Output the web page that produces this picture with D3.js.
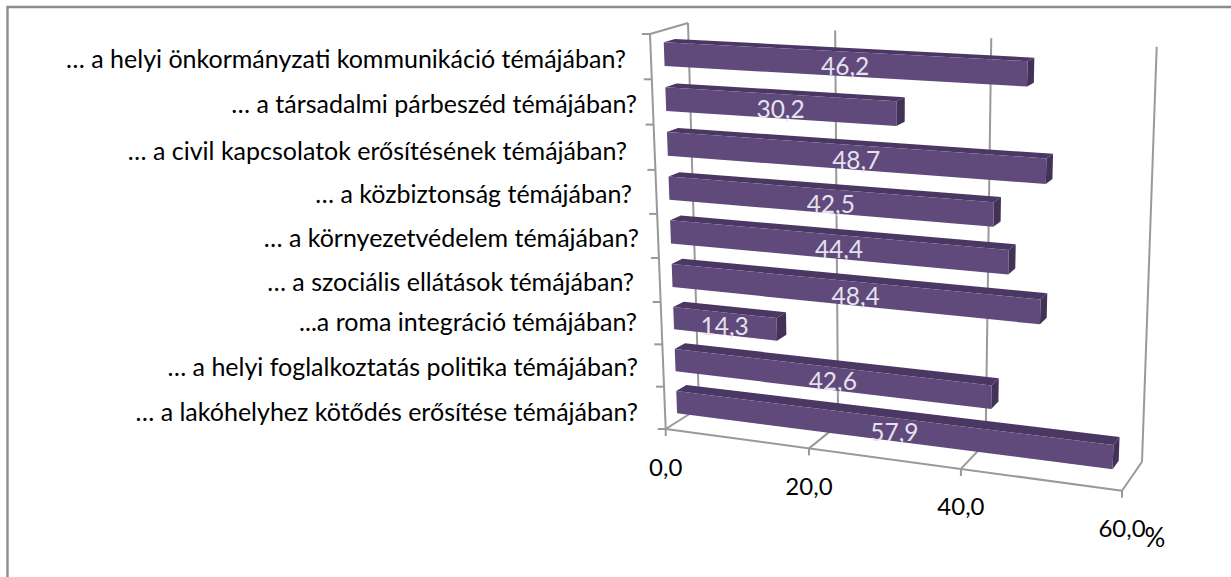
<!DOCTYPE html>
<html>
<head>
<meta charset="utf-8">
<script src="https://cdn.jsdelivr.net/npm/d3@7"></script>
<style>
  html, body { margin: 0; padding: 0; background: #fff; }
  svg { display: block; }
  text { font-family: Lato, "Noto Sans", sans-serif; }
</style>
</head>
<body>
<div id="chart"></div>
<script>
const categories = [
    "… a helyi önkormányzati kommunikáció témájában?",
    "… a társadalmi párbeszéd témájában?",
    "… a civil kapcsolatok erősítésének témájában?",
    "… a közbiztonság témájában?",
    "… a környezetvédelem témájában?",
    "… a szociális ellátások témájában?",
    "...a roma integráció témájában?",
    "… a helyi foglalkoztatás politika témájában?",
    "… a lakóhelyhez kötődés erősítése témájában?"
];
const values = [46.2, 30.2, 48.7, 42.5, 44.4, 48.4, 14.3, 42.6, 57.9];
const axisTicks = [0, 20, 40, 60];
const unitLabel = "%";

// hand placed text in the original, right edge and middle of each category label
const labelRight = [626, 637, 627, 632, 639, 634, 637, 638, 638];
const labelMiddle = [60, 105, 152, 195, 239, 283, 323, 368, 413];

const width = 1231;
const height = 577;

const svg = d3.select("#chart").append("svg")
    .attr("width", width)
    .attr("height", height);

// Corners of the 3D box as they land on the page
const box = {
    frontBottom: [[665.7, 429], [1122, 490.7]],
    backBottom: [[699, 408], [1142, 461.7]],
    frontTop: [[650, 34], [1139, 58]],
    backTop: [[688, 23], [1156.7, 46.7]]
};

// Value axis is foreshortened, so it is not evenly spaced
const xScale = d3.scaleLinear().domain(axisTicks).range([0, 0.314, 0.647, 1]);
// Rows on the side wall (0 = top edge, 9 = floor)
const rowScale = d3.scaleLinear().domain([0, 3, 6, 9]).range([1, 0.656, 0.3215, 0]);

const lerp = (a, b, t) => [a[0] + (b[0] - a[0]) * t, a[1] + (b[1] - a[1]) * t];

// value, depth (0 front, 1 back), height (0 floor, 1 top)
function project(value, depth, up) {
    const u = xScale(value);
    const front = lerp(lerp(box.frontBottom[0], box.frontBottom[1], u), lerp(box.frontTop[0], box.frontTop[1], u), up);
    const back = lerp(lerp(box.backBottom[0], box.backBottom[1], u), lerp(box.backTop[0], box.backTop[1], u), up);
    return lerp(front, back, depth);
}

const polygon = pts => "M" + pts.map(p => p.join(",")).join("L") + "Z";
const axisColor = "#999999";

function line(g, a, b, w) {
    g.append("line")
        .attr("x1", a[0]).attr("y1", a[1])
        .attr("x2", b[0]).attr("y2", b[1])
        .attr("stroke", axisColor)
        .attr("stroke-width", w || 2);
}

// Border, only top and left are in the picture
svg.append("path")
    .attr("d", `M7.5,${height}V7H${width}`)
    .attr("fill", "none")
    .attr("stroke", "#8c8c8c")
    .attr("stroke-width", 2.4);

// Walls and floor
const walls = svg.append("g");
axisTicks.forEach(t => {
    line(walls, project(t, 1, 0), project(t, 1, 1));
    line(walls, project(t, 0, 0), project(t, 1, 0));
    const p = project(t, 0, 0);
    line(walls, p, [p[0], p[1] + 7]);
});
line(walls, project(0, 0, 0), project(60, 0, 0));
line(walls, project(0, 0, 0), project(0, 0, 1));
line(walls, project(0, 0, 1), project(0, 1, 1));
d3.range(0, 10).forEach(i => {
    const p = project(0, 0, rowScale(i));
    line(walls, p, [p[0] - 8, p[1]]);
});

// Bars
const depth0 = 0.35;
const depth1 = 0.65;
const bandTop = 0.27;
const bandBottom = 0.8;

const bars = svg.selectAll(".bar")
    .data(values)
    .join("g")
    .attr("class", "bar");

const upOf = (i, f) => rowScale(i + f);

bars.append("path") // top
    .attr("fill", "#4b3763")
    .attr("d", (d, i) => polygon([
        project(0, depth0, upOf(i, bandTop)),
        project(d, depth0, upOf(i, bandTop)),
        project(d, depth1, upOf(i, bandTop)),
        project(0, depth1, upOf(i, bandTop))
    ]));

bars.append("path") // right end
    .attr("fill", "#433158")
    .attr("d", (d, i) => polygon([
        project(d, depth0, upOf(i, bandTop)),
        project(d, depth1, upOf(i, bandTop)),
        project(d, depth1, upOf(i, bandBottom)),
        project(d, depth0, upOf(i, bandBottom))
    ]));

bars.append("path") // front
    .attr("fill", "#5f4a7b")
    .attr("d", (d, i) => polygon([
        project(0, depth0, upOf(i, bandTop)),
        project(d, depth0, upOf(i, bandTop)),
        project(d, depth0, upOf(i, bandBottom)),
        project(0, depth0, upOf(i, bandBottom))
    ]));

// Value labels, sit just under the middle of the front face
svg.selectAll(".value-label")
    .data(values)
    .join("text")
    .attr("class", "value-label")
    .attr("text-anchor", "middle")
    .attr("font-size", 24.5)
    .attr("fill", "#e6e1ee")
    .attr("x", (d, i) => (project(0, depth0, upOf(i, 0.52))[0] + project(d, depth0, upOf(i, 0.52))[0]) / 2 - 0.5)
    .attr("y", (d, i) => (project(0, depth0, upOf(i, 0.52))[1] + project(d, depth0, upOf(i, 0.52))[1]) / 2 + 12)
    .text(d => d.toFixed(1).replace(".", ","));

// Category labels
svg.selectAll(".cat-label")
    .data(categories)
    .join("text")
    .attr("class", "cat-label")
    .attr("text-anchor", "end")
    .attr("font-size", 25)
    .attr("fill", "#000")
    .attr("x", (d, i) => labelRight[i])
    .attr("y", (d, i) => labelMiddle[i] + 7.5)
    .text(d => d);

// Axis labels
svg.selectAll(".tick-label")
    .data(axisTicks)
    .join("text")
    .attr("class", "tick-label")
    .attr("text-anchor", "middle")
    .attr("font-size", 24)
    .attr("fill", "#000")
    .attr("x", d => project(d, 0, 0)[0])
    .attr("y", d => project(d, 0, 0)[1] + 46.5)
    .text(d => d.toFixed(1).replace(".", ","));

svg.append("text")
    .attr("x", 1144.5)
    .attr("y", 547)
    .attr("font-size", 26)
    .attr("fill", "#000")
    .text(unitLabel);
</script>
</body>
</html>
